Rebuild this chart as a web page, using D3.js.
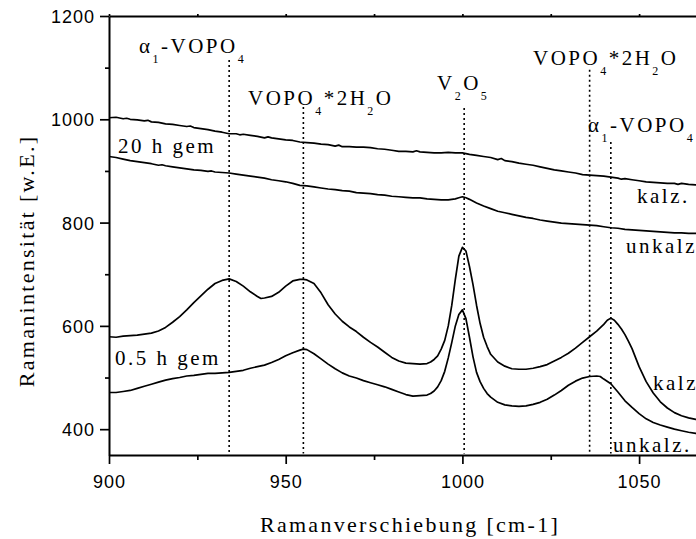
<!DOCTYPE html>
<html>
<head>
<meta charset="utf-8">
<script src="https://cdn.jsdelivr.net/npm/d3@7"></script>
<style>
  html, body { margin: 0; padding: 0; background: #fff; }
  svg { display: block; }
  .serif { font-family: "Liberation Serif", "Times New Roman", Times, serif; }
  .sans { font-family: "Liberation Sans", Arial, Helvetica, sans-serif; }
</style>
</head>
<body>
<svg id="chart" width="696" height="539"></svg>
<script>
// Raman spectra [Ramanverschiebung cm-1, Ramanintensität w.E.]
const spec20hKalz = [
  [900,1003],[902,1004],[904,1001],[905,1002],[906,1000],[908,999],[910,997],[911,998],[912,995],[914,994],[916,991],[918,990],
  [920,988],[922,986],[923,987],[924,984],[926,982],[928,980],[930,977],[932,975],[934,972],[936,972],[937,970],[938,971],
  [940,969],[942,967],[944,964],[945,966],[946,964],[948,962],[950,960],[952,959],[954,956],[956,955],[958,954],
  [960,952],[962,951],[964,948],[965,950],[966,947],[968,947],[970,946],[972,946],[974,945],[976,943],[978,942],
  [980,940],[982,938],[984,938],[986,937],[987,939],[988,937],[990,936],[992,935],[994,935],[996,936],[998,935],
  [1000,935],[1002,932],[1004,930],[1006,928],[1008,926],[1010,922],[1011,924],[1012,920],[1014,918],[1016,915],
  [1018,913],[1020,911],[1022,908],[1024,905],[1026,902],[1028,900],[1030,898],[1032,896],[1034,893],
  [1036,892],[1038,891],[1040,890],[1042,888],[1044,886],[1045,884],[1046,885],[1048,883],[1050,881],[1052,879],
  [1054,878],[1056,877],[1058,876],[1060,876],[1061,874],[1062,876],[1064,874],[1066,873],[1068,873]
];
const spec20hUnkalz = [
  [900,928],[902,926],[904,923],[906,920],[908,918],[910,916],[912,914],[914,911],[915,912],[916,910],[918,908],
  [920,906],[922,904],[924,902],[926,901],[928,899],[929,900],[930,898],[932,897],[934,896],[936,894],[938,892],
  [940,890],[942,888],[944,886],[946,883],[948,881],[950,879],[952,876],[954,872],[956,871],[958,869],
  [960,867],[962,865],[964,864],[966,862],[968,861],[970,858],[972,857],[974,856],[976,854],[978,853],
  [980,851],[982,850],[984,849],[986,848],[988,848],[990,846],[992,845],[994,844],[996,844],[998,846],
  [999,848],[1000,850],[1001,848],[1002,845],[1004,838],[1006,832],[1008,827],[1010,822],[1012,819],
  [1014,816],[1016,813],[1018,810],[1020,808],[1022,805],[1024,803],[1026,801],[1028,799],[1030,798],
  [1032,797],[1034,796],[1036,795],[1038,794],[1040,792],[1042,790],[1044,789],[1046,787],[1048,786],
  [1050,785],[1052,784],[1054,783],[1056,782],[1058,781],[1060,780],[1062,780],[1064,779],[1066,779],[1068,778]
];
const spec05hKalz = [
  [900,579],[902,578],[904,580],[906,581],[908,582],[910,584],[912,586],[914,590],[916,597],[918,607],
  [920,618],[922,631],[924,645],[926,658],[928,671],[930,682],[932,688],[934,691],[936,686],[938,677],
  [940,666],[942,657],[943,653],[944,654],[946,657],[948,665],[950,677],[952,687],[954,690],[955,690],
  [956,689],[958,682],[960,664],[962,641],[964,623],[966,609],[968,598],[970,589],[972,578],[974,568],
  [976,559],[978,549],[980,539],[982,532],[984,528],[986,527],[988,526],[990,527],[991,530],[992,535],
  [993,542],[994,555],[995,572],[996,600],[997,640],[998,690],[999,735],[1000,752],[1001,745],[1002,715],
  [1003,680],[1004,640],[1005,605],[1006,578],[1007,560],[1008,545],[1010,530],[1012,522],[1014,517],
  [1016,516],[1018,516],[1020,518],[1022,521],[1024,525],[1026,532],[1028,539],[1030,547],[1032,557],
  [1034,568],[1036,579],[1038,590],[1040,603],[1041,611],[1042,615],[1043,611],[1044,603],[1045,594],
  [1046,583],[1047,570],[1048,556],[1050,521],[1052,492],[1054,470],[1056,453],[1058,441],[1060,432],
  [1062,426],[1064,422],[1066,419],[1068,416]
];
const spec05hUnkalz = [
  [900,471],[902,471],[904,473],[906,475],[908,479],[910,483],[912,487],[914,491],[916,495],[918,498],
  [920,500],[922,503],[924,504],[926,506],[928,508],[930,508],[932,509],[934,510],[936,512],[938,514],
  [940,518],[942,521],[944,524],[946,529],[948,535],[950,542],[952,548],[954,553],[955,555],[956,554],
  [958,546],[960,536],[962,526],[964,517],[966,509],[968,503],[970,499],[972,494],[974,490],[976,486],
  [978,482],[980,477],[982,472],[984,467],[986,464],[988,465],[990,466],[991,469],[992,474],[993,482],
  [994,494],[995,512],[996,538],[997,568],[998,600],[999,622],[1000,631],[1001,614],[1002,578],[1003,540],
  [1004,510],[1005,492],[1006,479],[1007,469],[1008,462],[1010,452],[1012,447],[1014,445],[1016,444],
  [1018,445],[1020,448],[1022,452],[1024,458],[1026,466],[1028,475],[1030,485],[1032,493],[1034,499],
  [1036,502],[1038,503],[1039,502],[1040,497],[1042,488],[1044,472],[1046,455],[1048,442],[1050,430],
  [1052,420],[1054,413],[1056,408],[1058,404],[1060,400],[1062,397],[1064,394],[1066,392],[1068,390]
];
const spectra = [spec20hKalz, spec20hUnkalz, spec05hKalz, spec05hUnkalz];

// Band positions (cm-1) and the intensity where each guide line starts
const bandShift = [934, 955, 1000.5, 1036, 1042];
const bandTop   = [1115, 1024, 1022, 1096, 956];

const xMajorTicks = [900, 950, 1000, 1050];
const xMinorTicks = [925, 975, 1025, 1075];
const yMajorTicks = [400, 600, 800, 1000, 1200];
const yMinorTicks = [500, 700, 900, 1100];

const svg = d3.select('#chart');

const x = d3.scaleLinear().domain([900, 1080]).range([109, 109 + 180 * 3.534]);
const y = d3.scaleLinear().domain([350, 1200]).range([455, 16]);

// dotted band guides
svg.append('g').selectAll('line').data(bandShift).join('line')
  .attr('x1', d => x(d)).attr('x2', d => x(d))
  .attr('y1', (d, i) => y(bandTop[i])).attr('y2', y(353))
  .attr('stroke', '#000').attr('stroke-width', 1.6)
  .attr('stroke-dasharray', '2,3');

// spectra
const line = d3.line().x(d => x(d[0])).y(d => y(d[1]));
svg.append('g').selectAll('path').data(spectra).join('path')
  .attr('d', line)
  .attr('fill', 'none').attr('stroke', '#000')
  .attr('stroke-width', 1.7).attr('stroke-linejoin', 'round');

// axes
function styleAxis(g) {
  g.select('.domain').attr('stroke-width', 2);
  g.selectAll('.tick line').attr('stroke-width', 1.7);
}
const gx = svg.append('g').attr('transform', 'translate(0,455)')
  .call(d3.axisBottom(x).tickValues(xMajorTicks).tickSize(9).tickSizeOuter(0).tickFormat(d3.format('d')));
styleAxis(gx);
gx.attr('font-family', null).attr('font-size', null);
gx.selectAll('text').attr('y', 33).attr('dy', null).attr('class', 'sans')
  .attr('font-size', 18).attr('letter-spacing', 1).attr('fill', '#000');
const gxm = svg.append('g').attr('transform', 'translate(0,455)')
  .call(d3.axisBottom(x).tickValues(xMinorTicks).tickSize(5).tickFormat(''));
gxm.select('.domain').remove();
gxm.selectAll('.tick line').attr('stroke-width', 1.7);

const gy = svg.append('g').attr('transform', 'translate(109,0)')
  .call(d3.axisLeft(y).tickValues(yMajorTicks).tickSize(9).tickSizeOuter(0).tickFormat(d3.format('d')));
styleAxis(gy);
gy.attr('font-family', null).attr('font-size', null);
gy.selectAll('text').attr('x', -14).attr('dy', '0.36em').attr('class', 'sans')
  .attr('font-size', 18).attr('letter-spacing', 1).attr('fill', '#000');
const gym = svg.append('g').attr('transform', 'translate(109,0)')
  .call(d3.axisLeft(y).tickValues(yMinorTicks).tickSize(4).tickFormat(''));
gym.select('.domain').remove();
gym.selectAll('.tick line').attr('stroke-width', 1.7);

// top frame
const gt = svg.append('g').attr('transform', 'translate(0,16)')
  .call(d3.axisTop(x).tickValues(xMajorTicks.concat(xMinorTicks)).tickSize(2).tickSizeOuter(0).tickFormat(''));
styleAxis(gt);

// chemical labels with subscripts
function chemLabel(px, py, parts) {
  const t = svg.append('text').attr('class', 'serif').attr('x', px).attr('y', py)
    .attr('font-size', 21).attr('letter-spacing', 2.5).attr('fill', '#000');
  let low = false;
  parts.forEach(([s, sub]) => {
    const ts = t.append('tspan').text(s);
    if (sub) {
      ts.attr('font-size', 12);
      if (!low) { ts.attr('dy', 10); low = true; }
    } else if (low) { ts.attr('dy', -10); low = false; }
  });
}
chemLabel(139, 53,  [['α'], ['1', 1], ['-VOPO'], ['4', 1]]);
chemLabel(248, 105, [['VOPO'], ['4', 1], ['*2H'], ['2', 1], ['O']]);
chemLabel(437, 90,  [['V'], ['2', 1], ['O'], ['5', 1]]);
chemLabel(533, 65,  [['VOPO'], ['4', 1], ['*2H'], ['2', 1], ['O']]);
chemLabel(588, 132, [['α'], ['1', 1], ['-VOPO'], ['4', 1]]);

// sample labels
const sampleLabels = [
  ['20 h gem', 118, 153], ['0.5 h gem', 115, 365],
  ['kalz.', 637, 203], ['unkalz.', 626, 253],
  ['kalz.', 653, 390], ['unkalz.', 613, 452]
];
svg.append('g').selectAll('text').data(sampleLabels).join('text')
  .attr('class', 'serif')
  .attr('x', d => d[1]).attr('y', d => d[2]).text(d => d[0])
  .attr('font-size', 21).attr('letter-spacing', 2.5).attr('fill', '#000');

// axis titles
svg.append('text').attr('class', 'serif').attr('x', 410).attr('y', 532).attr('text-anchor', 'middle')
  .text('Ramanverschiebung [cm-1]').attr('font-size', 22).attr('letter-spacing', 2.3);
svg.append('text').attr('class', 'serif').attr('transform', 'translate(34,261) rotate(-90)').attr('text-anchor', 'middle')
  .text('Ramanintensität [w.E.]').attr('font-size', 22).attr('letter-spacing', 2.3);
</script>
</body>
</html>
